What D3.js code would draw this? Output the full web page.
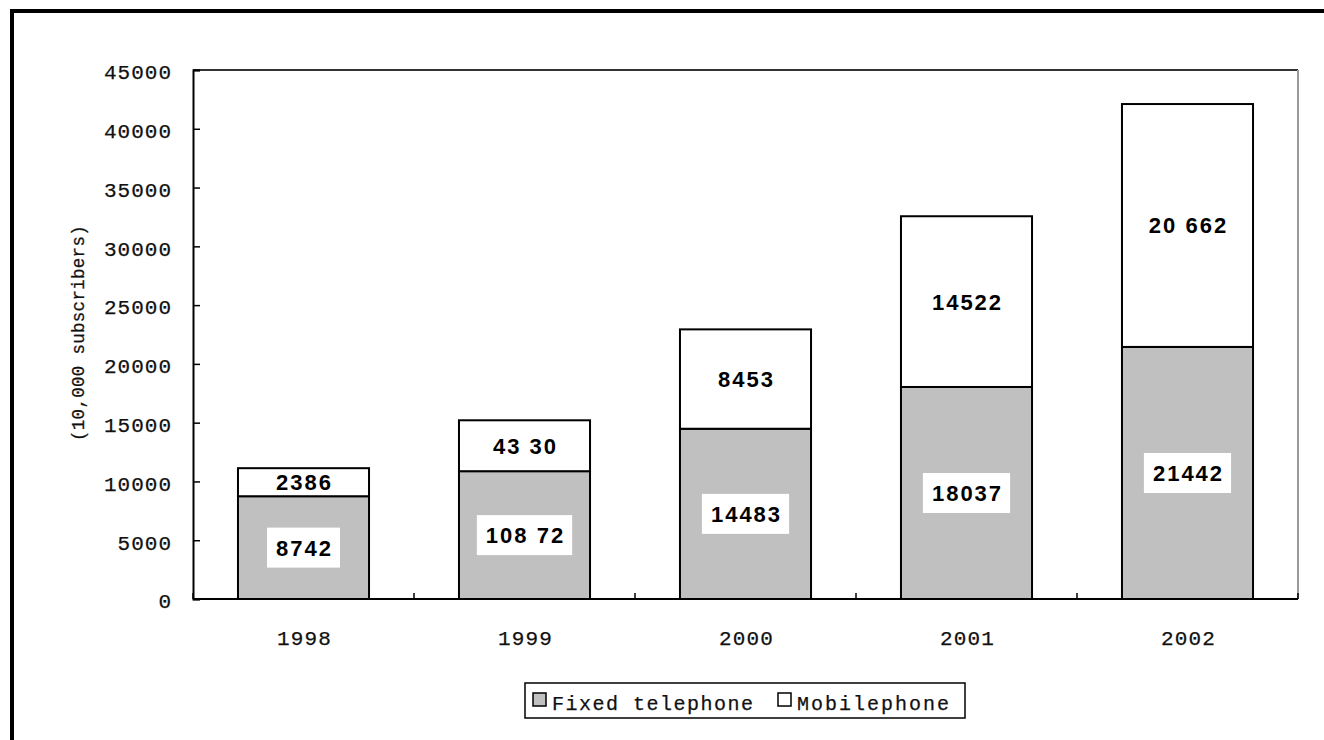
<!DOCTYPE html>
<html>
<head>
<meta charset="utf-8">
<script src="https://cdn.jsdelivr.net/npm/d3@7"></script>
<style>
  body { margin: 0; background: #fff; }
  svg { display: block; }
  .mono { font-family: "Liberation Mono", "DejaVu Sans Mono", monospace; fill: #111; stroke: #111; stroke-width: 0.25px; }
  .val { font-family: "Liberation Sans", Arial, sans-serif; font-weight: bold; fill: #000; }
</style>
</head>
<body>
<svg id="chart" width="1324" height="740"></svg>
<script>
// Telephone subscribers, 1998-2002 (10,000 subscribers)
const years = ["1998", "1999", "2000", "2001", "2002"];
const fixedValues = [8742, 10872, 14483, 18037, 21442];
const mobileValues = [2386, 4330, 8453, 14522, 20662];
const fixedLabels = ["8742", "108 72", "14483", "18037", "21442"];
const mobileLabels = ["2386", "43 30", "8453", "14522", "20 662"];
const yTicks = [0, 5000, 10000, 15000, 20000, 25000, 30000, 35000, 40000, 45000];
const seriesNames = ["Fixed telephone", "Mobilephone"];
const seriesFills = ["#c0c0c0", "#ffffff"];
const yTitle = "(10,000 subscribers)";

const svg = d3.select("#chart");
const plot = { left: 193, right: 1298, top: 70, bottom: 599 };

// outer frame (only its top and left edges fall inside the canvas)
svg.append("rect")
  .attr("x", 12).attr("y", 11).attr("width", 1400).attr("height", 800)
  .attr("fill", "none").attr("stroke", "#000").attr("stroke-width", 4);

const x = d3.scaleBand()
  .domain(years)
  .range([plot.left, plot.right])
  .paddingInner(0.407)
  .paddingOuter(0.2035);

const y = d3.scaleLinear().domain([0, 45000]).range([plot.bottom, plot.top]);

// plot area border: top and right edges
svg.append("line")
  .attr("x1", plot.left).attr("x2", plot.right)
  .attr("y1", plot.top).attr("y2", plot.top)
  .attr("stroke", "#333").attr("stroke-width", 2);
svg.append("line")
  .attr("x1", plot.right).attr("x2", plot.right)
  .attr("y1", plot.top).attr("y2", plot.bottom)
  .attr("stroke", "#999").attr("stroke-width", 2);

// stacked data
const rows = years.map((yr, i) => ({ year: yr, fixed: fixedValues[i], mobile: mobileValues[i] }));
const stack = d3.stack().keys(["fixed", "mobile"]);
const layers = stack(rows);

const barG = svg.append("g");
layers.forEach((layer, li) => {
  barG.selectAll(null)
    .data(layer)
    .enter().append("rect")
    .attr("x", d => x(d.data.year))
    .attr("width", x.bandwidth())
    .attr("y", d => y(d[1]))
    .attr("height", d => y(d[0]) - y(d[1]))
    .attr("fill", seriesFills[li])
    .attr("stroke", "#000")
    .attr("stroke-width", 2);
});

// y axis
const yAxis = d3.axisLeft(y)
  .tickValues(yTicks)
  .tickFormat(d3.format("d"))
  .tickSize(-7)
  .tickPadding(21);
const yg = svg.append("g").attr("transform", `translate(${plot.left},0)`).call(yAxis);
yg.select(".domain").attr("stroke", "#000").attr("stroke-width", 2);
yg.selectAll(".tick line").attr("stroke", "#000").attr("stroke-width", 1.5);
yg.selectAll(".tick text")
  .attr("class", "mono")
  .attr("dy", "0.42em")
  .style("font-size", "21px")
  .style("letter-spacing", "1px");

// x axis baseline and category separators
svg.append("line")
  .attr("x1", plot.left).attr("x2", plot.right)
  .attr("y1", plot.bottom).attr("y2", plot.bottom)
  .attr("stroke", "#000").attr("stroke-width", 2);
const sepX = d3.range(years.length + 1).map(i => plot.left + i * x.step());
svg.selectAll(null)
  .data(sepX)
  .enter().append("line")
  .attr("x1", d => d).attr("x2", d => d)
  .attr("y1", plot.bottom).attr("y2", plot.bottom - 6)
  .attr("stroke", "#000").attr("stroke-width", 1.5);

svg.selectAll(null)
  .data(years)
  .enter().append("text")
  .attr("class", "mono")
  .attr("x", d => x(d) + x.bandwidth() / 2 + 1)
  .attr("y", 645)
  .attr("text-anchor", "middle")
  .style("font-size", "21px")
  .style("letter-spacing", "1.2px")
  .text(d => d);

// y axis title
svg.append("text")
  .attr("class", "mono")
  .attr("transform", `translate(84,333) rotate(-90)`)
  .attr("text-anchor", "middle")
  .style("font-size", "17.5px")
  .style("letter-spacing", "0.3px")
  .text(yTitle);

// value labels
const labelG = svg.append("g");
layers.forEach((layer, li) => {
  layer.forEach((d, i) => {
    const cx = x(d.data.year) + x.bandwidth() / 2;
    const cy = (y(d[0]) + y(d[1])) / 2;
    const g = labelG.append("g");
    const t = g.append("text")
      .attr("class", "val")
      .attr("x", cx + 1)
      .attr("y", cy)
      .attr("dy", "0.36em")
      .attr("text-anchor", "middle")
      .style("font-size", "22px")
      .style("letter-spacing", "2px")
      .text(li === 0 ? fixedLabels[i] : mobileLabels[i]);
    if (li === 0) {
      const w = t.node().getComputedTextLength();
      g.insert("rect", "text")
        .attr("x", cx - w / 2 - 8)
        .attr("y", cy - 20)
        .attr("width", w + 16)
        .attr("height", 40)
        .attr("fill", "#fff");
    }
  });
});

// legend
const lg = svg.append("g");
lg.append("rect")
  .attr("x", 525).attr("y", 683).attr("width", 440).attr("height", 35)
  .attr("fill", "#fff").attr("stroke", "#000").attr("stroke-width", 1.5);
const legendX = [533, 778];
seriesNames.forEach((name, i) => {
  lg.append("rect")
    .attr("x", legendX[i]).attr("y", 693).attr("width", 13).attr("height", 13)
    .attr("fill", seriesFills[i]).attr("stroke", "#000").attr("stroke-width", 1.5);
  lg.append("text")
    .attr("class", "mono")
    .attr("x", legendX[i] + 19)
    .attr("y", 710)
    .style("font-size", "20px")
    .style("letter-spacing", i === 0 ? "1.5px" : "2px")
    .text(name);
});
</script>
</body>
</html>
